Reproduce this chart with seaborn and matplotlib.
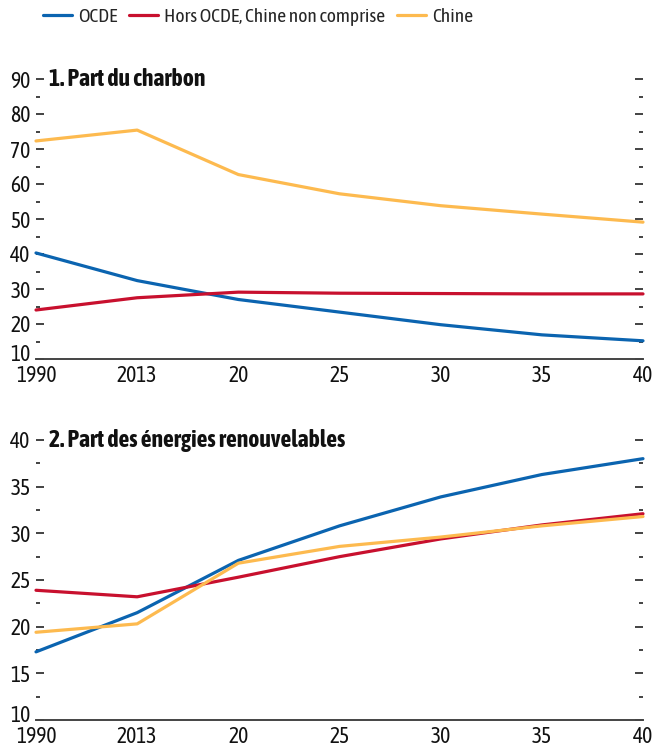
import matplotlib
matplotlib.use("Agg")
import matplotlib.pyplot as plt
from matplotlib import font_manager
from matplotlib.ticker import MultipleLocator
from matplotlib.transforms import ScaledTranslation
import seaborn as sns
import pandas as pd

sns.set_theme(style="white")


def _w(v):
    if isinstance(v, str):
        return font_manager.weight_dict.get(v, 400)
    return int(v)


# Prefer a narrow sans-serif face that also ships a bold weight
_weights = {}
for f in font_manager.fontManager.ttflist:
    _weights.setdefault(f.name, set()).add(_w(f.weight))
_narrow = sorted(n for n in _weights if "narrow" in n.lower() or "condensed" in n.lower())
_narrow_bold = [n for n in _narrow if max(_weights[n]) >= 600]
if _narrow_bold:
    BASE = _narrow_bold[0]
elif _narrow:
    BASE = _narrow[0]
else:
    BASE = "DejaVu Sans"
BOLD = BASE if (BASE in _weights and max(_weights[BASE]) >= 600) else "Liberation Sans"
plt.rcParams["font.family"] = [BASE, "DejaVu Sans"]

periods = ["1990", "2013", "20", "25", "30", "35", "40"]
series = ["OCDE", "Hors OCDE, Chine non comprise", "Chine"]
colors = ["#0B64B0", "#C8102E", "#FDBA4F"]

# Panel 1: share of coal
coal_ocde = [40.3, 32.4, 27.0, 23.4, 19.8, 16.9, 15.2]
coal_non_ocde = [24.0, 27.5, 29.1, 28.8, 28.7, 28.6, 28.6]
coal_chine = [72.3, 75.4, 62.7, 57.2, 53.8, 51.4, 49.1]

# Panel 2: share of renewables
ren_ocde = [17.3, 21.5, 27.1, 30.8, 33.9, 36.3, 38.0]
ren_non_ocde = [23.9, 23.2, 25.3, 27.5, 29.4, 30.9, 32.1]
ren_chine = [19.4, 20.3, 26.8, 28.6, 29.6, 30.8, 31.8]


def long_frame(values):
    rows = []
    for name, vals in zip(series, values):
        for i, v in enumerate(vals):
            rows.append({"pos": i, "serie": name, "valeur": v})
    return pd.DataFrame(rows)


W, H = 655, 751
fig = plt.figure(figsize=(W / 100, H / 100), dpi=100)
left, right = 36 / W, 643 / W
ax1 = fig.add_axes([left, 1 - 359 / H, right - left, 280 / H])
ax2 = fig.add_axes([left, 1 - 720 / H, right - left, 280 / H])

palette = dict(zip(series, colors))
FS = 15.5

panels = [
    (ax1, [coal_ocde, coal_non_ocde, coal_chine], (10, 90), 10, 5, "1. Part du charbon"),
    (ax2, [ren_ocde, ren_non_ocde, ren_chine], (10, 40), 5, 2.5, "2. Part des énergies renouvelables"),
]

for ax, vals, ylim, major, minor, title in panels:
    df = long_frame(vals)
    sns.lineplot(data=df, x="pos", y="valeur", hue="serie", palette=palette,
                 hue_order=series, linewidth=2.3, ax=ax, legend=False, sort=False)
    ax.set_xlim(0, len(periods) - 1)
    ax.set_ylim(*ylim)
    ax.set_xticks(range(len(periods)))
    ax.set_xticklabels(periods)
    yticks = list(range(ylim[0], ylim[1] + 1, major))
    ax.set_yticks(yticks)
    ax.set_yticklabels([str(t) for t in yticks])
    ax.yaxis.set_minor_locator(MultipleLocator(minor))
    ax.set_xlabel("")
    ax.set_ylabel("")
    for s in ["top", "left", "right"]:
        ax.spines[s].set_visible(False)
    ax.spines["bottom"].set_color("#444444")
    ax.spines["bottom"].set_linewidth(1.4)
    ax.tick_params(axis="y", which="major", direction="in", length=6, width=1.2,
                   color="#222222", left=True, right=True, labelsize=FS, pad=4,
                   labelcolor="#111111")
    ax.tick_params(axis="y", which="minor", direction="in", length=3, width=1.2,
                   color="#222222", left=True, right=True)
    ax.tick_params(axis="x", which="major", direction="in", length=6, width=1.2,
                   color="#444444", labelsize=FS, pad=4.5, labelcolor="#111111")
    ax.text(0.021, 1.0, title, transform=ax.transAxes, ha="left", va="center",
            fontsize=17, fontweight="bold", color="#111111",
            family=[BOLD, "DejaVu Sans"])
    for ln in ax.lines:
        ln.set_clip_on(False)
    # lift the lowest value label a little so it clears the year labels
    low = ax.get_yticklabels()[0]
    low.set_transform(low.get_transform() + ScaledTranslation(0, 0.065, fig.dpi_scale_trans))

handles = [plt.Line2D([], [], color=c, linewidth=2.3) for c in colors]
fig.legend(handles, series, loc="center left", bbox_to_anchor=(43 / W, 1 - 17 / H),
           ncol=3, frameon=False, fontsize=14, handlelength=1.5, handletextpad=0.3,
           columnspacing=0.6, borderaxespad=0, borderpad=0)

fig.savefig("out.png", dpi=100)
